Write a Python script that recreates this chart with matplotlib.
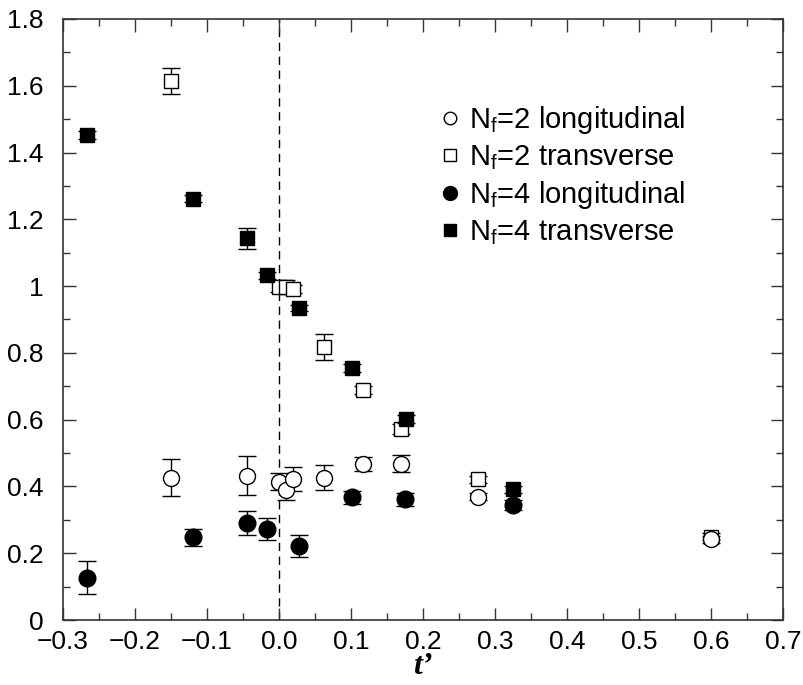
import matplotlib
matplotlib.use("Agg")
import matplotlib.pyplot as plt
from matplotlib.lines import Line2D
from matplotlib.ticker import MultipleLocator, FuncFormatter

plt.rcParams['font.family'] = ['Liberation Sans', 'DejaVu Sans']
plt.rcParams['mathtext.fontset'] = 'custom'
plt.rcParams['mathtext.rm'] = 'Liberation Sans'

# Nf=2 longitudinal (open circles)
n2l_x = [-0.150, -0.044, 0.000, 0.010, 0.020, 0.063, 0.116, 0.169, 0.277, 0.600]
n2l_y = [0.426, 0.432, 0.414, 0.389, 0.422, 0.426, 0.467, 0.468, 0.369, 0.242]
n2l_e = [0.056, 0.059, 0.025, 0.030, 0.035, 0.038, 0.022, 0.026, 0.010, 0.010]

# Nf=2 transverse (open squares)
n2t_x = [-0.150, 0.000, 0.010, 0.020, 0.063, 0.116, 0.169, 0.277, 0.600]
n2t_y = [1.614, 0.998, 0.998, 0.991, 0.818, 0.689, 0.571, 0.421, 0.250]
n2t_e = [0.040, 0.015, 0.020, 0.012, 0.040, 0.012, 0.015, 0.010, 0.010]

# Nf=4 longitudinal (filled circles)
n4l_x = [-0.267, -0.119, -0.044, -0.016, 0.028, 0.102, 0.175, 0.325]
n4l_y = [0.127, 0.248, 0.291, 0.273, 0.221, 0.367, 0.361, 0.344]
n4l_e = [0.050, 0.025, 0.036, 0.032, 0.033, 0.020, 0.020, 0.015]

# Nf=4 transverse (filled squares)
n4t_x = [-0.267, -0.119, -0.044, -0.016, 0.028, 0.102, 0.176, 0.325]
n4t_y = [1.453, 1.262, 1.143, 1.032, 0.934, 0.756, 0.601, 0.391]
n4t_e = [0.012, 0.010, 0.031, 0.010, 0.010, 0.012, 0.012, 0.010]

labels = [r"N$_\mathregular{f}$=2 longitudinal",
          r"N$_\mathregular{f}$=2 transverse",
          r"N$_\mathregular{f}$=4 longitudinal",
          r"N$_\mathregular{f}$=4 transverse"]
xlabel = "t\u2019"

fig = plt.figure(figsize=(8.04, 6.85), dpi=100)
ax = fig.add_axes([63/804, 1-620/685, 720/804, 601/685])

ax.axvline(0.0, color='black', lw=1.0, ls=(0, (6, 4)), zorder=1)

ekw = dict(ecolor='black', elinewidth=1.0, capsize=6.5, capthick=1.0, ls='none')
ax.errorbar(n2t_x, n2t_y, yerr=n2t_e, marker='s', ms=10, mfc='white', mec='black', mew=1.0, zorder=2, **ekw)
ax.errorbar(n2l_x, n2l_y, yerr=n2l_e, marker='o', ms=11.5, mfc='white', mec='black', mew=1.0, zorder=3, **ekw)
ax.errorbar(n4l_x, n4l_y, yerr=n4l_e, marker='o', ms=12, mfc='black', mec='black', mew=1.0, zorder=4, **ekw)
ax.errorbar(n4t_x, n4t_y, yerr=n4t_e, marker='s', ms=10.5, mfc='black', mec='black', mew=1.0, zorder=5, **ekw)

ax.set_xlim(-0.3, 0.7)
ax.set_ylim(0, 1.8)
ax.xaxis.set_major_locator(MultipleLocator(0.1))
ax.xaxis.set_minor_locator(MultipleLocator(0.05))
ax.yaxis.set_major_locator(MultipleLocator(0.2))
ax.yaxis.set_minor_locator(MultipleLocator(0.1))

def xfmt(v, p):
    s = f"{v:.1f}"
    if s == "-0.0":
        s = "0.0"
    return s.replace('-', '\u2212')

def yfmt(v, p):
    return f"{round(v, 1):g}"

ax.xaxis.set_major_formatter(FuncFormatter(xfmt))
ax.yaxis.set_major_formatter(FuncFormatter(yfmt))
ax.tick_params(which='both', direction='in', top=True, right=True, labelsize=19, color='#333333')
ax.tick_params(which='major', length=9, width=1.0)
ax.tick_params(which='minor', length=5, width=1.0)
ax.tick_params(axis='x', which='major', pad=7)
ax.tick_params(axis='y', which='major', pad=14)
for s in ax.spines.values():
    s.set_linewidth(1.2)
    s.set_color('#333333')

ax.set_xlabel(xlabel, family='Liberation Serif', style='italic', weight='bold', fontsize=23, labelpad=-1)

handles = [Line2D([], [], marker='o', ls='none', ms=9, mfc='white', mec='black', mew=1.0),
           Line2D([], [], marker='s', ls='none', ms=8, mfc='white', mec='black', mew=1.0),
           Line2D([], [], marker='o', ls='none', ms=10, mfc='black', mec='black'),
           Line2D([], [], marker='s', ls='none', ms=9, mfc='black', mec='black')]
ax.legend(handles, labels, loc='upper left', bbox_to_anchor=((440-63)/720, 1-(104-19)/601),
          frameon=False, fontsize=21, handlelength=0.7, handletextpad=0.3,
          labelspacing=0.25, borderpad=0, borderaxespad=0)

fig.savefig("out.png", dpi=100)
